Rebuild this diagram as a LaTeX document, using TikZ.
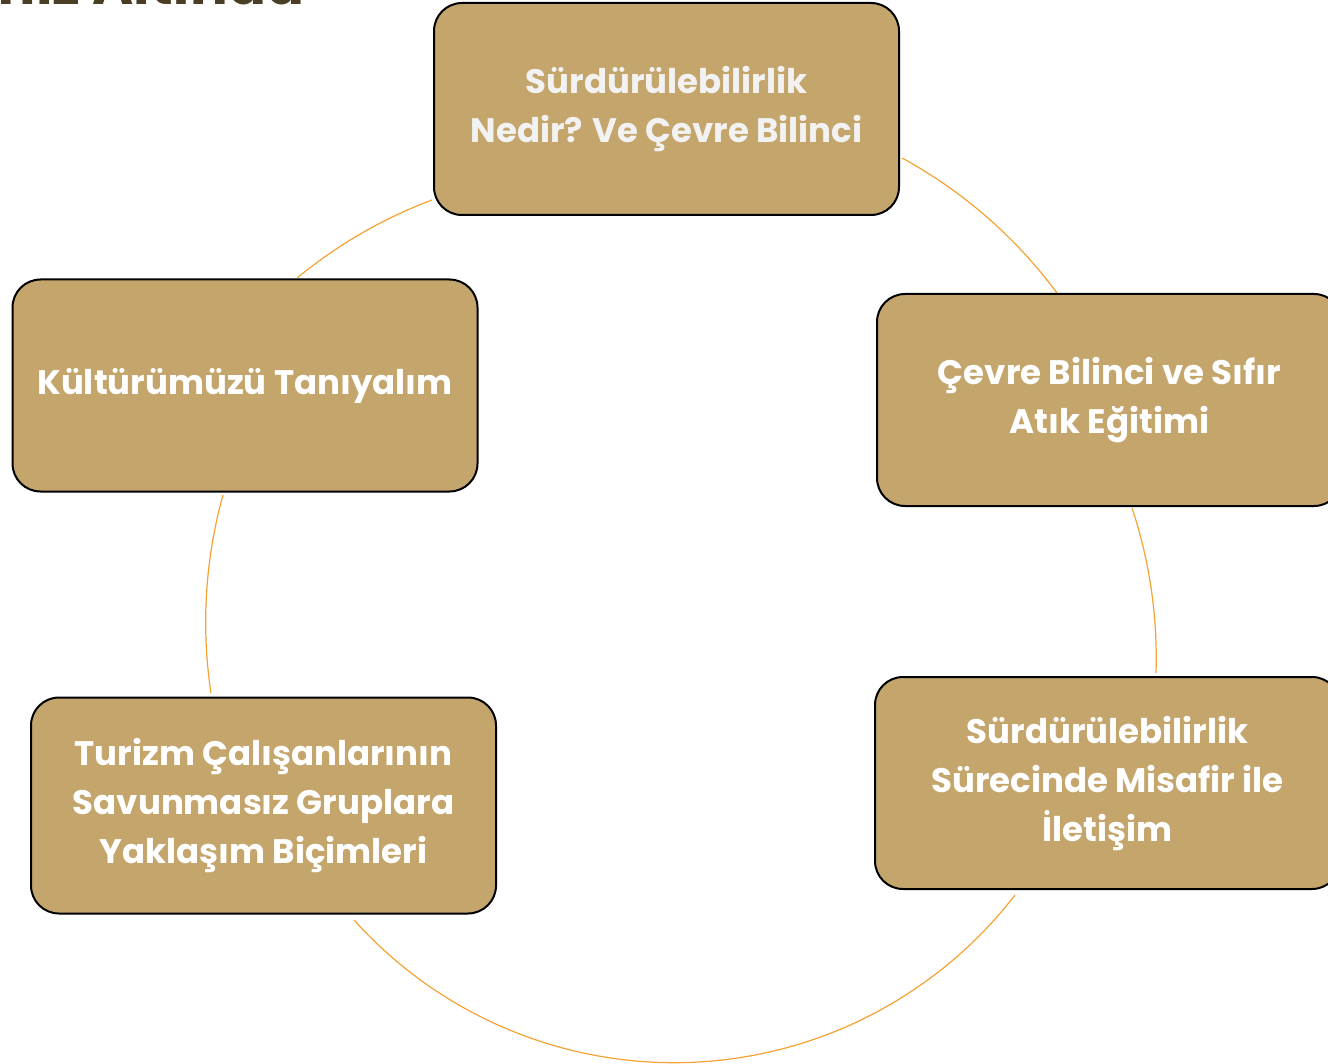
\documentclass[tikz,border=0pt]{standalone}
\usepackage{fontspec}
\setmainfont{Poppins}
\definecolor{boxfill}{HTML}{C4A66D}
\definecolor{arcline}{HTML}{F4A232}
\definecolor{titlecol}{HTML}{4A3E24}
\definecolor{softwhite}{HTML}{F2F2F2}
\begin{document}
\begin{tikzpicture}[x=0.5pt,y=-0.5pt,
  cbox/.style={draw=black, line width=1pt, fill=boxfill, rounded corners=14pt,
    minimum width=232.5pt, minimum height=106pt, align=center, text=white,
    font=\bfseries\fontsize{17}{24.5}\selectfont, inner sep=0pt},
  cyc/.style={draw=arcline, line width=0.6pt}]
\useasboundingbox (0,0) rectangle (1328,1064);
\clip (0,0) rectangle (1328,1064);
% cut-off title
\node[anchor=base east, inner sep=0pt, text=titlecol, font=\bfseries\fontsize{28}{32}\selectfont] (title) at (305,5) {Eğitimlerimiz Altında};
% arc start points
\coordinate (a1s) at (432,200);
\coordinate (a2s) at (902,158);
\coordinate (a3s) at (1132,508);
\coordinate (a4s) at (354,920);
\coordinate (a5s) at (223,495);
\draw[cyc] (a1s) arc[start angle=-110.6, end angle=-129.4, radius=476];
\draw[cyc] (a2s) arc[start angle=-61.4, end angle=-36.47, radius=476];
\draw[cyc] (a3s) arc[start angle=-18.36, end angle=1.81, radius=476];
\draw[cyc] (a4s) arc[start angle=138.05, end angle=37.62, radius=430.4];
\draw[cyc] (a5s) arc[start angle=195.5, end angle=171.44, radius=476];
% boxes
\node[cbox, text=softwhite] (n1) at (666.5,109) {Sürdürülebilirlik\\Nedir? Ve Çevre Bilinci};
\node[cbox] (n2) at (1109.5,400) {Çevre Bilinci ve Sıfır\\Atık Eğitimi};
\node[cbox] (n3) at (1107.5,783) {Sürdürülebilirlik\\Sürecinde Misafir ile\\İletişim};
\node[cbox, minimum height=108pt] (n4) at (263.5,805.5) {Turizm Çalışanlarının\\Savunmasız Gruplara\\Yaklaşım Biçimleri};
\node[cbox] (n5) at (245,385.5) {Kültürümüzü Tanıyalım};
\end{tikzpicture}
\end{document}
